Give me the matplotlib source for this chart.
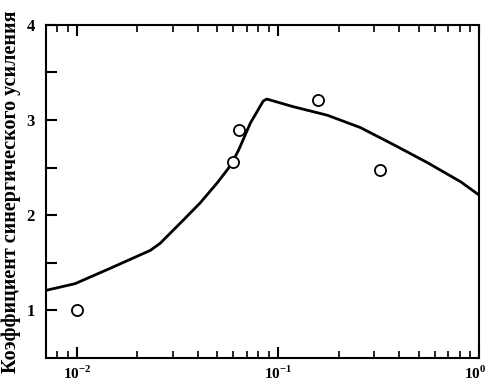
import matplotlib
matplotlib.use('Agg')
import matplotlib.pyplot as plt
import matplotlib.transforms as mtransforms
from matplotlib.ticker import LogLocator, FixedLocator, FuncFormatter, NullFormatter

# экспериментальные точки
exp_x = [0.01, 0.060, 0.064, 0.158, 0.32]
exp_y = [1.0, 2.56, 2.90, 3.21, 2.47]

# расчётная кривая
calc_x = [0.00703, 0.0098, 0.0146, 0.0232, 0.026, 0.0339, 0.0411, 0.0499, 0.0566,
          0.060, 0.0636, 0.073, 0.0845, 0.088, 0.119, 0.176, 0.257, 0.376, 0.555, 0.81, 1.0]
calc_y = [1.21, 1.28, 1.44, 1.63, 1.705, 1.95, 2.13, 2.34, 2.49,
          2.58, 2.68, 2.97, 3.20, 3.22, 3.14, 3.05, 2.92, 2.74, 2.55, 2.35, 2.21]

y_ticks = [1, 2, 3, 4]
x_ticks = [0.01, 0.1, 1.0]
x_labels = ['10$^{\\mathbf{-2}}$', '10$^{\\mathbf{-1}}$', '10$^{\\mathbf{0}}$']

plt.rcParams['font.family'] = ['Liberation Serif', 'DejaVu Serif']
plt.rcParams['font.weight'] = 'bold'
plt.rcParams['mathtext.fontset'] = 'custom'
plt.rcParams['mathtext.rm'] = 'Liberation Serif:bold'
plt.rcParams['mathtext.bf'] = 'Liberation Serif:bold'

fig = plt.figure(figsize=(4.89, 3.82), dpi=100)
ax = fig.add_axes([0.094, 0.063, 0.886, 0.872])

ax.plot(calc_x, calc_y, color='black', lw=2)
ax.plot(exp_x, exp_y, 'o', ms=8, mfc='white', mec='black', mew=1.3)

ax.set_xscale('log')
ax.set_xlim(0.00703, 1.0)
ax.set_ylim(0.5, 4)

ax.xaxis.set_major_locator(FixedLocator(x_ticks))
ax.xaxis.set_major_formatter(FuncFormatter(lambda v, p: x_labels[x_ticks.index(v)] if v in x_ticks else ''))
ax.xaxis.set_minor_locator(LogLocator(base=10, subs=range(2, 10)))
ax.xaxis.set_minor_formatter(NullFormatter())

ax.yaxis.set_major_locator(FixedLocator(y_ticks))
ax.yaxis.set_minor_locator(FixedLocator([1.5, 2.5, 3.5]))

ax.tick_params(axis='x', which='both', direction='in', top=True, bottom=True, labelsize=11, pad=5)
ax.tick_params(axis='x', which='major', length=8, width=1.5)
ax.tick_params(axis='x', which='minor', length=5, width=1.2)
ax.tick_params(axis='y', which='both', direction='in', left=True, right=False, length=8, width=1.5,
               labelsize=12, pad=8)

for lab in ax.get_yticklabels():
    lab.set_fontweight('bold')

# последняя подпись у самого края -- чуть сдвинуть влево, чтобы не обрезалась
last = ax.xaxis.get_major_ticks()[-1].label1
last.set_transform(last.get_transform() + mtransforms.ScaledTranslation(-0.04, 0, fig.dpi_scale_trans))

for s in ax.spines.values():
    s.set_linewidth(1.5)

ax.set_ylabel('Коэффициент синергического усиления', fontsize=14.5, fontweight='bold')
ax.yaxis.set_label_coords(-0.058, 0.5)

fig.savefig('out.png', dpi=100)
